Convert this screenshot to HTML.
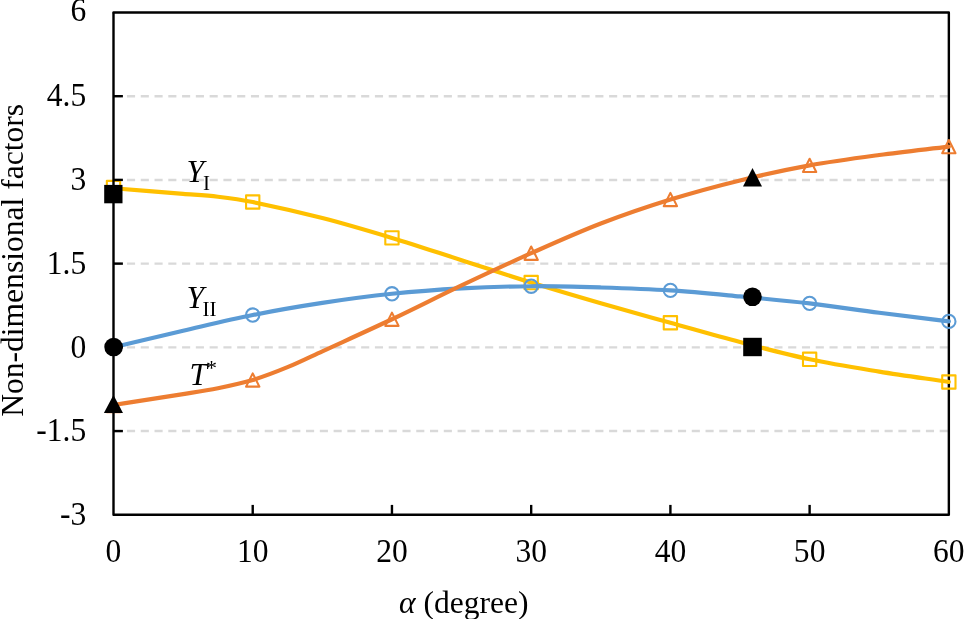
<!DOCTYPE html>
<html lang="en"><head><meta charset="utf-8"><title>Non-dimensional factors vs crack angle</title>
<style>html,body{margin:0;padding:0;background:#fff}body{width:964px;height:619px;overflow:hidden}svg{display:block;will-change:transform}text{font-family:"Liberation Serif","Times New Roman",Times,serif;fill:#000}.t{font-size:31.55px}.s{font-size:21px}.i{font-style:italic}</style></head><body>
<svg width="964" height="619" viewBox="0 0 964 619">
<rect width="964" height="619" fill="#fff"/>
<g stroke="#D9D9D9" stroke-width="2.45" stroke-dasharray="8.1 5.675" fill="none">
<line x1="113.2" y1="96.18" x2="948.85" y2="96.18"/>
<line x1="113.2" y1="179.9" x2="948.85" y2="179.9"/>
<line x1="113.2" y1="263.62" x2="948.85" y2="263.62"/>
<line x1="113.2" y1="347.35" x2="948.85" y2="347.35"/>
<line x1="113.2" y1="431.07" x2="948.85" y2="431.07"/>
</g>
<path d="M113.5 12.45 H948.85 V514.8" fill="none" stroke="#000" stroke-width="2.4" stroke-linejoin="round" stroke-linecap="round"/>
<g stroke="#FFC000" fill="none" stroke-linejoin="round" stroke-linecap="round">
<path d="M113.50 188.30 C136.70 190.15 159.91 191.97 183.11 193.84 C194.71 194.77 206.32 195.34 217.92 196.70 C229.52 198.06 241.12 199.63 252.72 202.00 C275.93 206.73 299.13 212.02 322.34 218.00 C345.54 223.98 368.75 230.87 391.95 237.90 C415.15 244.93 438.36 252.76 461.56 260.20 C484.77 267.64 507.97 275.37 531.17 282.55 C554.38 289.73 577.58 296.60 600.79 303.30 C623.99 310.00 647.20 316.30 670.40 322.75 C693.60 329.20 716.81 335.91 740.01 342.00 C763.22 348.09 786.42 354.37 809.62 359.30 C832.83 364.23 856.03 367.82 879.24 371.60 C902.44 375.38 925.65 378.53 948.85 382.00" stroke-width="4.15"/>
<rect x="106.85" y="180.85" width="13.3" height="13.3" stroke-width="2.1"/>
<rect x="246.07" y="195.35" width="13.3" height="13.3" stroke-width="2.1"/>
<rect x="385.3" y="231.25" width="13.3" height="13.3" stroke-width="2.1"/>
<rect x="524.52" y="275.9" width="13.3" height="13.3" stroke-width="2.1"/>
<rect x="663.75" y="316.1" width="13.3" height="13.3" stroke-width="2.1"/>
<rect x="802.98" y="352.65" width="13.3" height="13.3" stroke-width="2.1"/>
<rect x="942.2" y="375.35" width="13.3" height="13.3" stroke-width="2.1"/>
</g>
<g stroke="#5B9BD5" fill="none" stroke-linejoin="round" stroke-linecap="round">
<path d="M113.50 347.20 C136.70 341.73 159.91 336.16 183.11 330.80 C206.32 325.44 229.52 319.70 252.72 315.05 C275.93 310.40 299.13 306.44 322.34 302.90 C345.54 299.36 368.75 296.22 391.95 293.80 C415.15 291.38 438.36 289.67 461.56 288.40 C484.77 287.13 507.97 286.36 531.17 286.20 C554.38 286.04 577.58 286.75 600.79 287.45 C623.99 288.15 647.20 288.91 670.40 290.40 C693.60 291.89 716.81 294.23 740.01 296.40 C763.22 298.57 786.42 300.67 809.62 303.40 C832.83 306.13 856.03 309.80 879.24 312.80 C902.44 315.80 925.65 318.53 948.85 321.40" stroke-width="4.15"/>
<circle cx="113.5" cy="347.2" r="6.65" stroke-width="2.1"/>
<circle cx="252.72" cy="315.05" r="6.65" stroke-width="2.1"/>
<circle cx="391.95" cy="293.8" r="6.65" stroke-width="2.1"/>
<circle cx="531.17" cy="286.2" r="6.65" stroke-width="2.1"/>
<circle cx="670.4" cy="290.4" r="6.65" stroke-width="2.1"/>
<circle cx="809.62" cy="303.4" r="6.65" stroke-width="2.1"/>
<circle cx="948.85" cy="321.4" r="6.65" stroke-width="2.1"/>
</g>
<g stroke="#ED7D31" fill="none" stroke-linejoin="round" stroke-linecap="round">
<path d="M113.50 405.00 C136.70 401.37 159.91 397.83 183.11 394.10 C194.71 392.23 206.32 390.55 217.92 388.20 C229.52 385.85 241.12 383.50 252.72 380.00 C264.33 376.50 275.93 371.98 287.53 367.20 C299.13 362.42 310.74 356.63 322.34 351.30 C345.54 340.64 368.75 330.23 391.95 319.25 C415.15 308.27 438.36 296.41 461.56 285.40 C484.77 274.39 507.97 263.52 531.17 253.20 C554.38 242.88 577.58 232.45 600.79 223.50 C623.99 214.55 647.20 206.68 670.40 199.50 C693.60 192.32 716.81 186.08 740.01 180.40 C763.22 174.72 786.42 169.63 809.62 165.40 C832.83 161.17 856.03 158.12 879.24 155.00 C902.44 151.88 925.65 149.43 948.85 146.65" stroke-width="4.15"/>
<path d="M113.5 398.95L120.15 412.25H106.85Z" stroke-width="2.1"/>
<path d="M252.72 373.35L259.38 386.65H246.07Z" stroke-width="2.1"/>
<path d="M391.95 312.6L398.6 325.9H385.3Z" stroke-width="2.1"/>
<path d="M531.17 246.55L537.82 259.85H524.52Z" stroke-width="2.1"/>
<path d="M670.4 192.85L677.05 206.15H663.75Z" stroke-width="2.1"/>
<path d="M809.62 158.75L816.27 172.05H802.98Z" stroke-width="2.1"/>
<path d="M948.85 140L955.5 153.3H942.2Z" stroke-width="2.1"/>
</g>
<g stroke="#000" stroke-width="2.4" fill="none" stroke-linecap="butt">
<path d="M113.5 12.45 V514.8 H948.85" stroke-linejoin="round"/>
<line x1="113.5" y1="96.18" x2="122.9" y2="96.18"/>
<line x1="113.5" y1="179.9" x2="122.9" y2="179.9"/>
<line x1="113.5" y1="263.62" x2="122.9" y2="263.62"/>
<line x1="113.5" y1="347.35" x2="122.9" y2="347.35"/>
<line x1="113.5" y1="431.07" x2="122.9" y2="431.07"/>
<line x1="252.72" y1="514.8" x2="252.72" y2="504.9" stroke-width="2.4"/>
<line x1="391.95" y1="514.8" x2="391.95" y2="504.9" stroke-width="2.4"/>
<line x1="531.17" y1="514.8" x2="531.17" y2="504.9" stroke-width="2.4"/>
<line x1="670.4" y1="514.8" x2="670.4" y2="504.9" stroke-width="2.4"/>
<line x1="809.62" y1="514.8" x2="809.62" y2="504.9" stroke-width="2.4"/>
</g>
<g fill="#000" stroke="none">
<rect x="104.2" y="184.9" width="18.3" height="18.4"/>
<circle cx="113.6" cy="347.05" r="9.3"/>
<path d="M113.45 395.1L123 412.9H103.9Z"/>
<path d="M752.5 167.9L762 186.6H743Z"/>
<circle cx="752.5" cy="296.8" r="9.3"/>
<rect x="743.2" y="337.8" width="18.6" height="18.4"/>
</g>
<g class="t" text-anchor="end">
<text transform="translate(86.2 21.45) scale(1 1.05)">6</text>
<text transform="translate(86.2 106.38) scale(1 1.05)">4.5</text>
<text transform="translate(86.2 190.1) scale(1 1.05)">3</text>
<text transform="translate(86.2 273.82) scale(1 1.05)">1.5</text>
<text transform="translate(86.2 357.55) scale(1 1.05)">0</text>
<text transform="translate(86.2 441.27) scale(1 1.05)">-1.5</text>
<text transform="translate(86.2 525) scale(1 1.05)">-3</text>
</g>
<g class="t" text-anchor="middle">
<text transform="translate(113.5 562.2) scale(1 1.05)">0</text>
<text transform="translate(252.72 562.2) scale(1 1.05)">10</text>
<text transform="translate(391.95 562.2) scale(1 1.05)">20</text>
<text transform="translate(531.17 562.2) scale(1 1.05)">30</text>
<text transform="translate(670.4 562.2) scale(1 1.05)">40</text>
<text transform="translate(809.62 562.2) scale(1 1.05)">50</text>
<text transform="translate(948.85 562.2) scale(1 1.05)">60</text>
</g>
<text class="t" x="399" y="612.5"><tspan class="i">α</tspan> (degree)</text>
<text class="t" transform="translate(23.3 416.8) rotate(-90)">Non-dimensional factors</text>
<text class="t" x="186.6" y="181.8"><tspan class="i">Y</tspan><tspan class="s" x="202.9" y="190">I</tspan></text>
<text class="t" x="186.6" y="307.7"><tspan class="i">Y</tspan><tspan class="s" x="202.5" y="315.8">II</tspan></text>
<text class="t" x="189.4" y="384.8"><tspan class="i">T</tspan><tspan x="205.9" y="375.2" style="font-size:22px">*</tspan></text>
</svg></body></html>
